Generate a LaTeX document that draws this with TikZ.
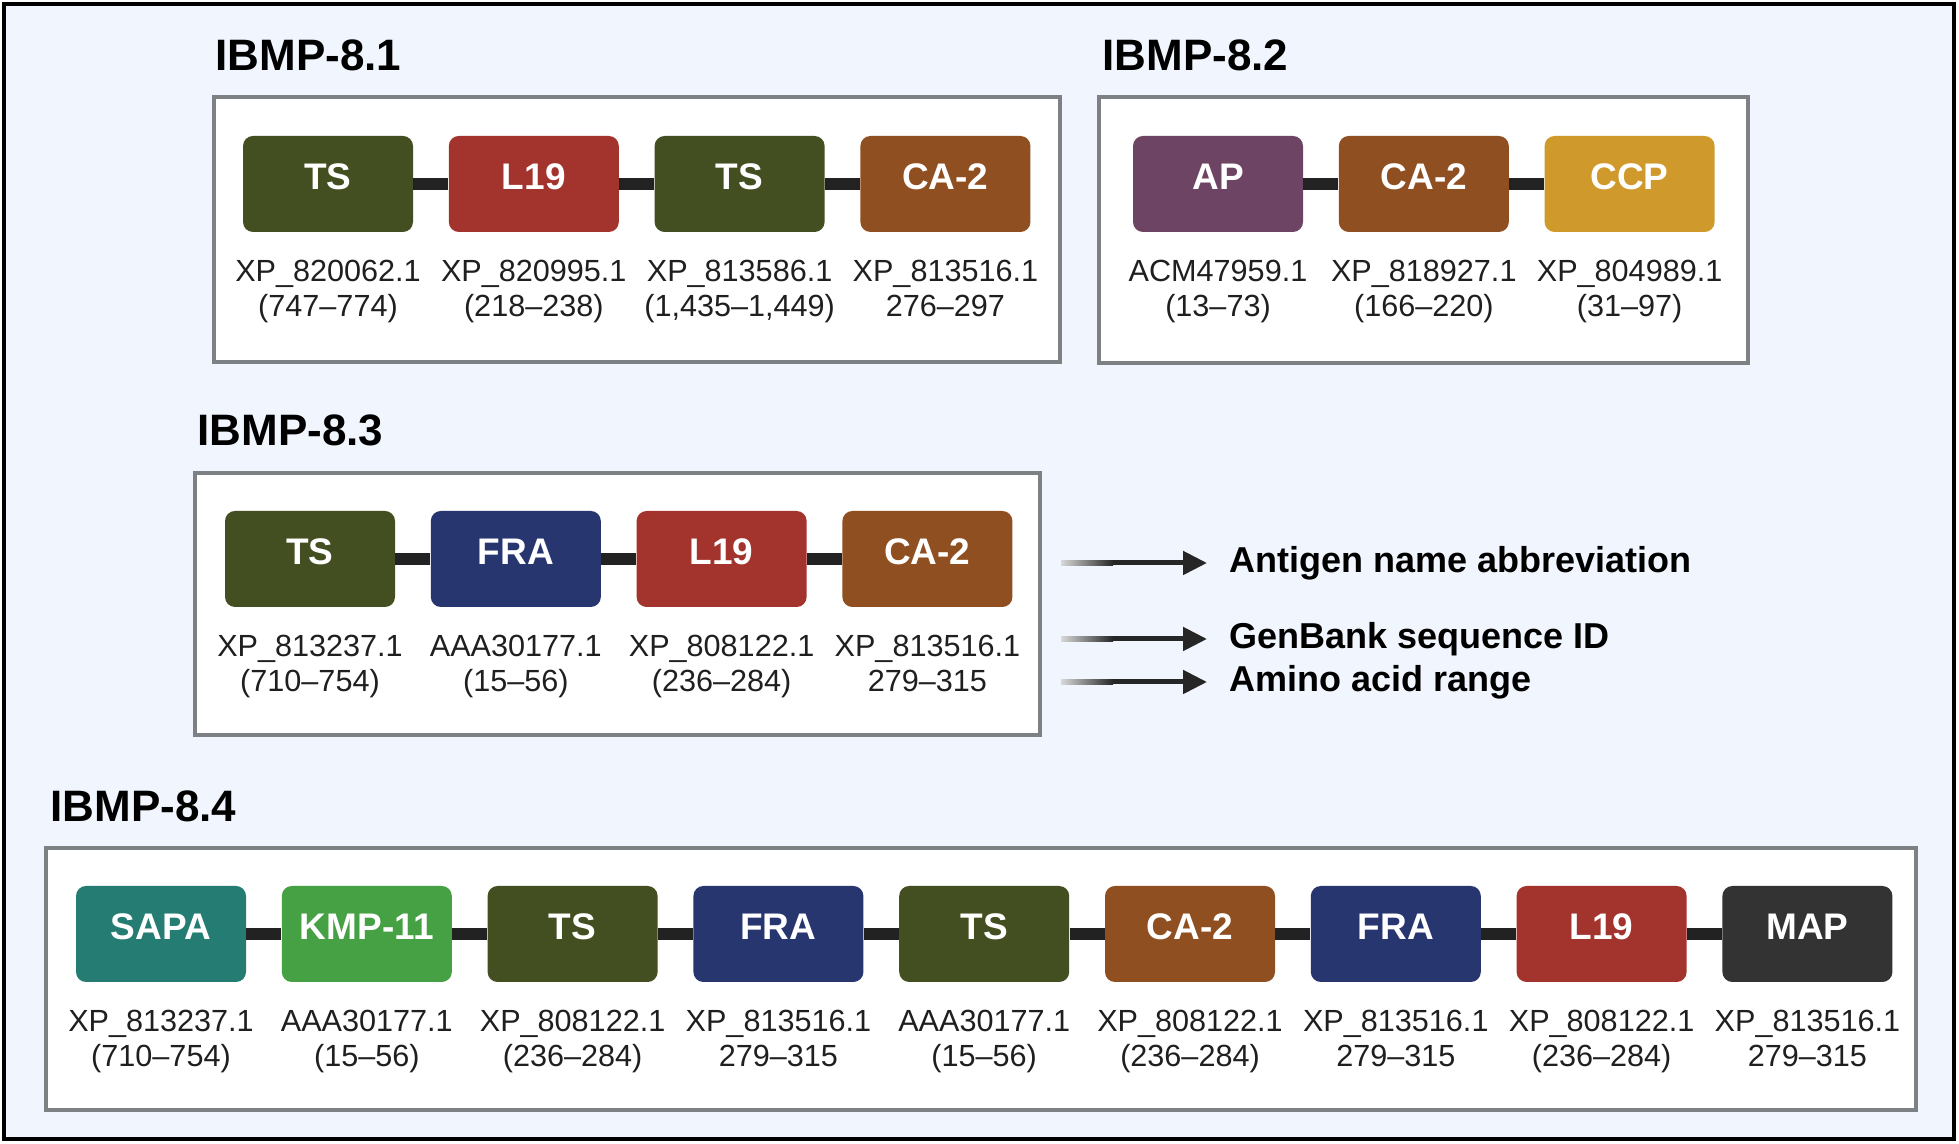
\documentclass[tikz,border=0pt]{standalone}
\usepackage{fontspec}
\setmainfont{Liberation Sans}
\usetikzlibrary{arrows.meta,positioning}

\definecolor{bgblue}{HTML}{F1F5FD}
\definecolor{framegray}{HTML}{7E8184}
\definecolor{linkgray}{HTML}{222222}
\definecolor{clrTS}{HTML}{444F21}
\definecolor{clrL19}{HTML}{A3342D}
\definecolor{clrCA2}{HTML}{8F4F20}
\definecolor{clrAP}{HTML}{6D4463}
\definecolor{clrCCP}{HTML}{CF9A2B}
\definecolor{clrFRA}{HTML}{283670}
\definecolor{clrSAPA}{HTML}{247C72}
\definecolor{clrKMP}{HTML}{46A044}
\definecolor{clrMAP}{HTML}{333333}

\begin{document}
\begin{tikzpicture}[x=0.5pt,y=0.5pt]

% --------------------
% Parameters (tweak these)
% --------------------
\def\blkW{85pt}    % antigen block width
\def\blkH{48pt}    % antigen block height
\def\blkGap{17.5pt} % gap between blocks
\def\idGap{13.5pt}  % block -> ID text gap
\def\tailL{84pt}    % legend arrow length
\def\fadeL{26pt}    % faded part of the arrow tail

\tikzset{
  frame/.style={draw=framegray, line width=2pt, fill=white},
  blk/.style={fill=#1, rounded corners=5pt, minimum width=\blkW, minimum height=\blkH,
    inner sep=0pt, text=white, text depth=7pt, font=\fontsize{18.5}{22}\selectfont\bfseries},
  link/.style={draw=linkgray, line width=6pt},
  idlbl/.style={align=center, inner sep=0pt, text=black!88, font=\fontsize{15.3}{17.5}\selectfont},
  ttl/.style={anchor=base west, inner sep=0pt, font=\fontsize{22}{26}\selectfont\bfseries},
  legtxt/.style={anchor=west, inner sep=0pt, font=\fontsize{18}{22}\selectfont\bfseries},
  legarrow/.style={-{Triangle[length=12pt,width=11.5pt]}, line width=2.5pt, draw=black!85, shorten >=11pt},
  tailfade/.style={left color=black!15, right color=black!85},
  node distance=\blkGap
}

\useasboundingbox (0,0) rectangle (1959,1144);

% --------------------
% Outer panel
% --------------------
\draw[line width=2pt, fill=bgblue] (4,5) rectangle (1954,1140);

% --------------------
% IBMP-8.1
% --------------------
\node[ttl] (t81) at (215,1073) {IBMP-8.1};
\draw[frame] (214,1047) rectangle (1060,782);

\node[blk=clrTS] (a1) at (328,960) {TS};
\node[blk=clrL19, right=of a1] (a2) {L19};
\node[blk=clrTS, right=of a2] (a3) {TS};
\node[blk=clrCA2, right=of a3] (a4) {CA-2};

\draw[link] (a1.east) -- (a2.west);
\draw[link] (a2.east) -- (a3.west);
\draw[link] (a3.east) -- (a4.west);

\node[idlbl, below=\idGap of a1] (a1id) {XP\_820062.1\\(747--774)};
\node[idlbl, below=\idGap of a2] (a2id) {XP\_820995.1\\(218--238)};
\node[idlbl, below=\idGap of a3] (a3id) {XP\_813586.1\\(1,435--1,449)};
\node[idlbl, below=\idGap of a4] (a4id) {XP\_813516.1\\276--297};

% --------------------
% IBMP-8.2
% --------------------
\node[ttl] (t82) at (1102,1073) {IBMP-8.2};
\draw[frame] (1099,1047) rectangle (1748,781);

\node[blk=clrAP] (b1) at (1218,960) {AP};
\node[blk=clrCA2, right=of b1] (b2) {CA-2};
\node[blk=clrCCP, right=of b2] (b3) {CCP};

\draw[link] (b1.east) -- (b2.west);
\draw[link] (b2.east) -- (b3.west);

\node[idlbl, below=\idGap of b1] (b1id) {ACM47959.1\\(13--73)};
\node[idlbl, below=\idGap of b2] (b2id) {XP\_818927.1\\(166--220)};
\node[idlbl, below=\idGap of b3] (b3id) {XP\_804989.1\\(31--97)};

% --------------------
% IBMP-8.3
% --------------------
\node[ttl] (t83) at (197,698) {IBMP-8.3};
\draw[frame] (195,671) rectangle (1040,409);

\node[blk=clrTS] (c1) at (310,585) {TS};
\node[blk=clrFRA, right=of c1] (c2) {FRA};
\node[blk=clrL19, right=of c2] (c3) {L19};
\node[blk=clrCA2, right=of c3] (c4) {CA-2};

\draw[link] (c1.east) -- (c2.west);
\draw[link] (c2.east) -- (c3.west);
\draw[link] (c3.east) -- (c4.west);

\node[idlbl, below=\idGap of c1] (c1id) {XP\_813237.1\\(710--754)};
\node[idlbl, below=\idGap of c2] (c2id) {AAA30177.1\\(15--56)};
\node[idlbl, below=\idGap of c3] (c3id) {XP\_808122.1\\(236--284)};
\node[idlbl, below=\idGap of c4] (c4id) {XP\_813516.1\\279--315};

% --------------------
% Legend (what each row means)
% --------------------
\node[legtxt] (antigen) at (1229,581) {Antigen name abbreviation};
\node[legtxt] (genbank) at (1229,505) {GenBank sequence ID};
\node[legtxt] (aarange) at (1229,462) {Amino acid range};

\coordinate (antigenT) at ([xshift=-\tailL]antigen.west);
\coordinate (genbankT) at ([xshift=-\tailL]genbank.west);
\coordinate (aarangeT) at ([xshift=-\tailL]aarange.west);
\coordinate (antigenM) at ([xshift=\fadeL]antigenT);
\coordinate (genbankM) at ([xshift=\fadeL]genbankT);
\coordinate (aarangeM) at ([xshift=\fadeL]aarangeT);

% faded tails
\shade[tailfade] ([yshift=-1.25pt]antigenT) rectangle ([yshift=1.25pt]antigenM);
\shade[tailfade] ([yshift=-1.25pt]genbankT) rectangle ([yshift=1.25pt]genbankM);
\shade[tailfade] ([yshift=-1.25pt]aarangeT) rectangle ([yshift=1.25pt]aarangeM);

\draw[legarrow] (antigenM) -- (antigen.west);
\draw[legarrow] (genbankM) -- (genbank.west);
\draw[legarrow] (aarangeM) -- (aarange.west);

% --------------------
% IBMP-8.4
% --------------------
\node[ttl] (t84) at (50,322) {IBMP-8.4};
\draw[frame] (46,296) rectangle (1916,34);

\node[blk=clrSAPA] (d1) at (161,210) {SAPA};
\node[blk=clrKMP, right=of d1] (d2) {KMP-11};
\node[blk=clrTS, right=of d2] (d3) {TS};
\node[blk=clrFRA, right=of d3] (d4) {FRA};
\node[blk=clrTS, right=of d4] (d5) {TS};
\node[blk=clrCA2, right=of d5] (d6) {CA-2};
\node[blk=clrFRA, right=of d6] (d7) {FRA};
\node[blk=clrL19, right=of d7] (d8) {L19};
\node[blk=clrMAP, right=of d8] (d9) {MAP};

\draw[link] (d1.east) -- (d2.west);
\draw[link] (d2.east) -- (d3.west);
\draw[link] (d3.east) -- (d4.west);
\draw[link] (d4.east) -- (d5.west);
\draw[link] (d5.east) -- (d6.west);
\draw[link] (d6.east) -- (d7.west);
\draw[link] (d7.east) -- (d8.west);
\draw[link] (d8.east) -- (d9.west);

\node[idlbl, below=\idGap of d1] (d1id) {XP\_813237.1\\(710--754)};
\node[idlbl, below=\idGap of d2] (d2id) {AAA30177.1\\(15--56)};
\node[idlbl, below=\idGap of d3] (d3id) {XP\_808122.1\\(236--284)};
\node[idlbl, below=\idGap of d4] (d4id) {XP\_813516.1\\279--315};
\node[idlbl, below=\idGap of d5] (d5id) {AAA30177.1\\(15--56)};
\node[idlbl, below=\idGap of d6] (d6id) {XP\_808122.1\\(236--284)};
\node[idlbl, below=\idGap of d7] (d7id) {XP\_813516.1\\279--315};
\node[idlbl, below=\idGap of d8] (d8id) {XP\_808122.1\\(236--284)};
\node[idlbl, below=\idGap of d9] (d9id) {XP\_813516.1\\279--315};

\end{tikzpicture}
\end{document}
